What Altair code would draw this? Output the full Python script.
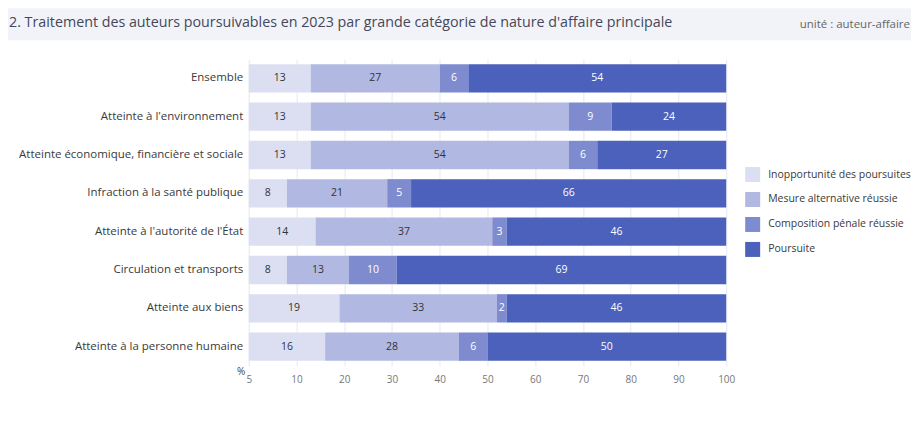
import altair as alt
import pandas as pd

title_text = "2. Traitement des auteurs poursuivables en 2023 par grande catégorie de nature d'affaire principale"
unit_text = "unité : auteur-affaire"

categories = [
    "Ensemble",
    "Atteinte à l'environnement",
    "Atteinte économique, financière et sociale",
    "Infraction à la santé publique",
    "Atteinte à l'autorité de l'État",
    "Circulation et transports",
    "Atteinte aux biens",
    "Atteinte à la personne humaine",
]
series = [
    "Inopportunité des poursuites",
    "Mesure alternative réussie",
    "Composition pénale réussie",
    "Poursuite",
]
inopportunite = [13, 13, 13, 8, 14, 8, 19, 16]
mesure_alt = [27, 54, 54, 21, 37, 13, 33, 28]
composition = [6, 9, 6, 5, 3, 10, 2, 6]
poursuite = [54, 24, 27, 66, 46, 69, 46, 50]
colors = ["#dcdff2", "#b1b8e2", "#7f8bcf", "#4b61bb"]

x_tick_values = [0, 10, 20, 30, 40, 50, 60, 70, 80, 90, 100]
x_tick_labels = ["5", "10", "20", "30", "40", "50", "60", "70", "80", "90", "100"]

rows = []
for i, c in enumerate(categories):
    for k, vals in enumerate([inopportunite, mesure_alt, composition, poursuite]):
        rows.append({"cat": c, "serie": series[k], "k": k, "value": vals[i]})
df = pd.DataFrame(rows)

label_expr = " : ".join(
    f"datum.value == {v} ? '{l}'" for v, l in zip(x_tick_values, x_tick_labels)
) + " : datum.label"

font = "Open Sans"

base = alt.Chart(df).transform_stack(
    stack="value", groupby=["cat"], as_=["x0", "x1"], sort=[alt.SortField("k")]
).transform_calculate(mid="(datum.x0 + datum.x1) / 2")

y_enc = alt.Y(
    "cat:N",
    sort=categories,
    title=None,
    scale=alt.Scale(paddingInner=0.26, paddingOuter=0.13),
    axis=alt.Axis(
        ticks=False, domain=False, labelPadding=6, labelFontSize=11.5,
        labelColor="#3a3a3a", labelFont=font, minExtent=241, maxExtent=241,
        labelLimit=240,
    ),
)

bars = base.mark_bar().encode(
    x=alt.X(
        "x0:Q",
        scale=alt.Scale(domain=[0, 100], nice=False),
        title="%",
        axis=alt.Axis(
            values=x_tick_values, labelExpr=label_expr, grid=True,
            gridColor="#e6e8f1", ticks=False, domain=False, labelPadding=9,
            labelFontSize=10, labelColor="#777", labelFont=font,
            labelFlush=False,
            titleFontSize=10, titleFontWeight="normal", titleColor="#444",
            titleFont=font, titleAlign="right", titleBaseline="middle",
            titleX=-4, titleY=6,
        ),
    ),
    x2="x1:Q",
    y=y_enc,
    color=alt.Color(
        "serie:N",
        scale=alt.Scale(domain=series, range=colors),
        legend=alt.Legend(
            title=None, orient="none", legendX=497, legendY=108,
            symbolType="square", symbolSize=225, symbolStrokeWidth=0,
            rowPadding=10, labelFontSize=10.5, labelColor="#3a3a3a",
            labelFont=font, labelLimit=150, labelOffset=8,
        ),
    ),
    order=alt.Order("k:Q"),
)

texts = base.mark_text(fontSize=10.5, font=font, fontWeight=500).encode(
    x=alt.X("mid:Q"),
    y=alt.Y("cat:N", sort=categories),
    text=alt.Text("value:Q"),
    color=alt.condition("datum.k >= 2", alt.value("#ffffff"), alt.value("#333333")),
)

hdr_df = pd.DataFrame({"t": [title_text], "u": [unit_text]})
hdr = alt.Chart(hdr_df)
band = hdr.mark_rect(color="#f2f3f8").encode(
    x=alt.value(-241), x2=alt.value(663), y=alt.value(-51), y2=alt.value(-19)
)
hdr_title = hdr.mark_text(
    align="left", baseline="middle", fontSize=14.3, font=font, color="#44475a"
).encode(x=alt.value(-240), y=alt.value(-36), text="t:N")
hdr_unit = hdr.mark_text(
    align="right", baseline="middle", fontSize=11.5, font=font, color="#666666"
).encode(x=alt.value(662), y=alt.value(-34), text="u:N")

chart = alt.layer(band, bars, texts, hdr_title, hdr_unit).properties(
    width=478, height=307, padding=0, background="white"
).configure_view(stroke=None)

chart.save("out.html", embed_options={"renderer": "svg", "actions": False})
